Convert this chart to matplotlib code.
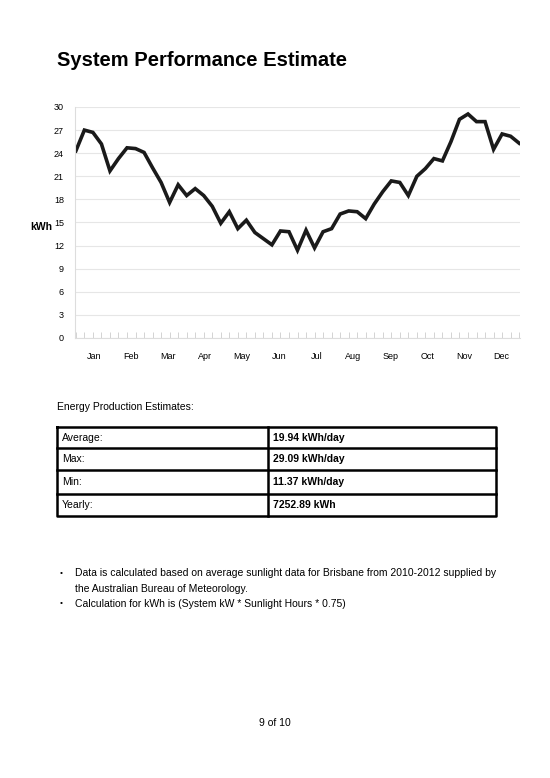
import matplotlib
matplotlib.use("Agg")
import matplotlib.pyplot as plt
import numpy as np

plt.rcParams['font.family'] = ['Liberation Sans', 'DejaVu Sans']

kwh = [24.3,27.0,26.7,25.2,21.7,23.3,24.7,24.6,24.1,22.1,20.2,17.6,19.9,18.5,19.4,18.5,17.1,14.9,
       16.4,14.2,15.3,13.7,12.9,12.1,13.9,13.8,11.4,14.0,11.7,13.8,14.2,16.1,16.5,16.4,15.5,17.4,
       19.0,20.4,20.2,18.5,21.0,22.0,23.3,23.0,25.5,28.4,29.09,28.1,28.1,24.5,26.5,26.2,25.3]
months = ["Jan","Feb","Mar","Apr","May","Jun","Jul","Aug","Sep","Oct","Nov","Dec"]
yticks = [0,3,6,9,12,15,18,21,24,27,30]
rows = ["Average:", "Max:", "Min:", "Yearly:"]
vals = ["19.94 kWh/day", "29.09 kWh/day", "11.37 kWh/day", "7252.89 kWh"]
notes = ["Data is calculated based on average sunlight data for Brisbane from 2010-2012 supplied by",
         "the Australian Bureau of Meteorology.",
         "Calculation for kWh is (System kW * Sunlight Hours * 0.75)"]

W, H = 550, 778
fig = plt.figure(figsize=(5.5, 7.78), dpi=100)
ax = fig.add_axes([75/W, 1-338/H, 445/W, 231/H])
x = np.arange(len(kwh))
ax.plot(x, kwh, color='#1a1a1a', lw=2.6, solid_joinstyle='miter')
ax.set_xlim(-0.1, 52.1)
ax.set_ylim(0, 30)
ax.set_yticks(yticks)
ax.set_yticklabels([str(v) for v in yticks], fontsize=6.5)
ax.set_xticks(x, minor=True)
ax.set_xticks([2.1 + 4.35*i for i in range(12)])
ax.set_xticklabels(months, fontsize=6.5)
ax.tick_params(axis='x', which='major', length=0, pad=10)
ax.tick_params(axis='x', which='minor', length=4, color='#cccccc', direction='in')
ax.tick_params(axis='y', length=0, pad=8)
ax.grid(axis='y', color='#e6e6e6', lw=0.8)
ax.set_axisbelow(True)
for s in ['top','right']:
    ax.spines[s].set_visible(False)
ax.spines['left'].set_color('#dddddd')
ax.spines['bottom'].set_color('#dddddd')

o = fig.add_axes([0,0,1,1], zorder=-1)
o.set_xlim(0, W); o.set_ylim(H, 0); o.axis('off')
o.text(57, 60, "System Performance Estimate", fontsize=14.5, fontweight='bold', va='center')
o.text(30, 227, "kWh", fontsize=7.5, fontweight='bold', va='center')
o.text(57, 407, "Energy Production Estimates:", fontsize=7.5, va='center')
ys = [427, 448, 470, 494, 516]
o.plot([57,496,496,57,57],[ys[0],ys[0],ys[-1],ys[-1],ys[0]], color='k', lw=1.8)
for yy in ys[1:-1]:
    o.plot([57,496],[yy,yy], color='k', lw=1.8)
o.plot([268,268],[ys[0],ys[-1]], color='k', lw=1.8)
for i,(r,v) in enumerate(zip(rows, vals)):
    yc = (ys[i]+ys[i+1])/2
    o.text(62, yc, r, fontsize=7.5, va='center')
    o.text(273, yc, v, fontsize=7.5, fontweight='bold', va='center')
o.text(60, 573, "•", fontsize=6, va='center')
o.text(75, 573, notes[0], fontsize=7.5, va='center')
o.text(75, 589, notes[1], fontsize=7.5, va='center')
o.text(60, 604, "•", fontsize=6, va='center')
o.text(75, 604, notes[2], fontsize=7.5, va='center')
o.text(275, 723, "9 of 10", fontsize=7.5, va='center', ha='center')
fig.savefig("out.png", dpi=100)
